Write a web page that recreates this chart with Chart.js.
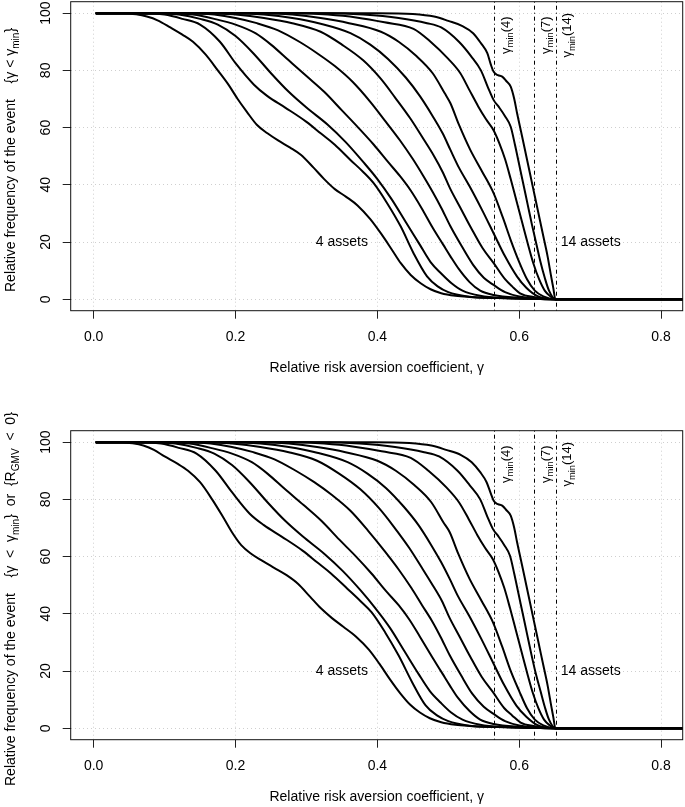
<!DOCTYPE html>
<html>
<head>
<meta charset="utf-8">
<script src="https://cdn.jsdelivr.net/npm/chart.js@4.4.1/dist/chart.umd.min.js"></script>
<style>
  html, body { margin: 0; padding: 0; background: #fff; }
  #wrap { position: relative; width: 685px; height: 807px; overflow: hidden; }
  canvas { position: absolute; left: 0; }
  #c1 { top: 0; }
  #c2 { top: 400px; }
</style>
</head>
<body>
<div id="wrap">
  <canvas id="c1" width="685" height="400"></canvas>
  <canvas id="c2" width="685" height="407"></canvas>
</div>
<script>
// ---------------- DATA ----------------
const xTicks = [0.0, 0.2, 0.4, 0.6, 0.8];
const xTickLabels = ["0.0", "0.2", "0.4", "0.6", "0.8"];
const yTicks = [0, 20, 40, 60, 80, 100];
const yTickLabels = ["0", "20", "40", "60", "80", "100"];
const gminValues = [0.5645, 0.6208, 0.6514];
const gminNames = ["4", "7", "14"];
const assetLabels = ["4 assets", "14 assets"];

// top panel curves: [gamma, relative frequency]
const top4 = [[0.003,100],[0.045,100],[0.06,99.6],[0.075,98.8],[0.09,97.5],[0.108,95],[0.125,92.5],[0.14,90],[0.158,85.5],[0.175,80],[0.19,75],[0.203,70],[0.216,65.5],[0.23,61],[0.245,58],[0.26,55.5],[0.277,53],[0.292,50.5],[0.31,46],[0.325,42],[0.34,38.5],[0.356,35.8],[0.372,32.8],[0.39,28],[0.405,23],[0.42,17.5],[0.433,12.6],[0.447,8.5],[0.461,5.6],[0.475,3.5],[0.49,2.1],[0.51,1.2],[0.53,0.8],[0.56,0.5],[0.6,0.3],[0.651,0],[0.84,0]];
const top5 = [[0.003,100],[0.07,100],[0.1,99.5],[0.125,98],[0.15,96],[0.178,90],[0.2,82.5],[0.226,75],[0.245,71],[0.27,67],[0.3,62],[0.32,58],[0.34,54],[0.362,48.7],[0.38,44.5],[0.395,40.5],[0.414,33.5],[0.433,25.4],[0.451,16.1],[0.47,8],[0.485,4.5],[0.5,2.5],[0.527,1],[0.57,0.4],[0.651,0],[0.84,0]];
const top6 = [[0.003,100],[0.09,100],[0.12,99.5],[0.15,98],[0.175,96],[0.2,92],[0.225,86],[0.25,79],[0.275,72.5],[0.3,67],[0.33,61],[0.355,55],[0.38,48],[0.4,42],[0.42,35],[0.44,27],[0.46,19],[0.475,13],[0.49,9],[0.505,5.5],[0.52,3],[0.545,1.2],[0.58,0.4],[0.651,0],[0.84,0]];
const top7 = [[0.003,100],[0.11,100],[0.14,99.5],[0.17,98],[0.2,96],[0.228,93],[0.25,89],[0.275,83.5],[0.3,78],[0.325,72.5],[0.35,66],[0.373,60],[0.395,54],[0.415,48],[0.432,43],[0.447,38],[0.462,32],[0.478,25],[0.493,19],[0.503,15],[0.515,10.5],[0.53,6],[0.545,3],[0.564,1.5],[0.6,0.5],[0.651,0],[0.84,0]];
const top8 = [[0.003,100],[0.14,100],[0.17,99.5],[0.2,98.3],[0.23,96.5],[0.26,94],[0.29,90],[0.315,86],[0.34,81.5],[0.365,76],[0.39,69],[0.412,62],[0.432,55.5],[0.45,49],[0.465,43],[0.478,37.5],[0.49,32],[0.503,25.5],[0.519,18.5],[0.535,12],[0.55,7.5],[0.564,5],[0.58,2.5],[0.6,1],[0.651,0],[0.84,0]];
const top9 = [[0.003,100],[0.17,100],[0.2,99.5],[0.24,98.3],[0.28,96.5],[0.32,93.5],[0.35,89],[0.38,83.5],[0.405,77],[0.425,70.5],[0.447,63],[0.465,56],[0.48,50],[0.492,44.5],[0.503,38.5],[0.517,32],[0.532,25],[0.548,18],[0.564,12.6],[0.58,7],[0.59,4.5],[0.602,2],[0.62,0.8],[0.651,0],[0.84,0]];
const top10 = [[0.003,100],[0.2,100],[0.24,99.5],[0.28,98.3],[0.32,96.3],[0.362,93],[0.39,89],[0.415,84],[0.44,77.5],[0.46,71],[0.478,64],[0.492,58],[0.503,52.2],[0.515,46],[0.53,39.5],[0.547,31.5],[0.564,23],[0.58,15],[0.597,7.9],[0.61,4],[0.625,1.2],[0.651,0],[0.84,0]];
const top11 = [[0.003,100],[0.245,100],[0.28,99.5],[0.32,98.3],[0.36,96.5],[0.405,93.5],[0.43,90],[0.455,85],[0.478,79],[0.495,72],[0.503,68.5],[0.515,61],[0.531,52.2],[0.548,44.5],[0.564,37],[0.577,28.5],[0.588,20.7],[0.6,13],[0.611,7],[0.622,3],[0.634,1],[0.651,0],[0.84,0]];
const top12 = [[0.003,100],[0.29,100],[0.33,99.5],[0.37,98.5],[0.41,96.8],[0.451,94.5],[0.475,90],[0.5,84],[0.517,79],[0.53,73],[0.542,67.5],[0.553,63],[0.564,59],[0.572,54.5],[0.58,49],[0.588,42],[0.596,34.5],[0.604,27],[0.612,19.5],[0.62,12.5],[0.628,7],[0.636,3],[0.644,1],[0.651,0],[0.84,0]];
const top13 = [[0.003,100],[0.33,100],[0.38,99.5],[0.43,98.3],[0.47,96.5],[0.49,95],[0.515,90],[0.532,85],[0.546,80],[0.556,74],[0.564,69.6],[0.571,67.3],[0.58,64],[0.588,60.3],[0.594,54],[0.6,47],[0.606,40],[0.612,33],[0.618,26],[0.624,19.5],[0.63,13],[0.636,7.5],[0.642,3],[0.651,0],[0.84,0]];
const top14 = [[0.003,100],[0.4,100],[0.45,99.7],[0.48,98.8],[0.5,97.3],[0.52,95.5],[0.535,93],[0.546,89.5],[0.555,86],[0.56,82],[0.564,79.5],[0.57,78.3],[0.576,77.8],[0.582,76.2],[0.588,74.3],[0.593,70],[0.597,65],[0.604,57],[0.61,50],[0.616,43],[0.622,36],[0.628,29],[0.634,22],[0.64,15],[0.645,8],[0.648,4],[0.651,0],[0.84,0]];

// bottom panel curves
const bot4 = [[0.003,100],[0.04,100],[0.055,99.6],[0.07,98.8],[0.085,97.3],[0.1,95],[0.118,92.5],[0.133,90],[0.15,86],[0.167,80],[0.182,74],[0.195,68.5],[0.208,64],[0.222,61],[0.238,58.5],[0.255,56],[0.272,53.5],[0.288,50.5],[0.305,46],[0.32,42],[0.336,38.5],[0.352,35.5],[0.37,32],[0.388,27.5],[0.403,22.5],[0.418,17],[0.432,12.3],[0.446,8.3],[0.46,5.5],[0.474,3.5],[0.49,2.1],[0.51,1.2],[0.53,0.8],[0.56,0.5],[0.6,0.3],[0.651,0],[0.84,0]];
const bot5 = [[0.003,100],[0.065,100],[0.095,99.5],[0.12,98],[0.145,96],[0.172,90],[0.195,82.5],[0.22,75],[0.24,71],[0.265,67],[0.295,62],[0.315,58],[0.335,54],[0.358,48.7],[0.376,44.5],[0.392,40.5],[0.411,33.5],[0.43,25.4],[0.449,16.1],[0.468,8],[0.484,4.5],[0.5,2.5],[0.527,1],[0.57,0.4],[0.651,0],[0.84,0]];
const bot6 = [[0.003,100],[0.085,100],[0.115,99.5],[0.145,98],[0.17,96],[0.195,92],[0.22,86],[0.245,79],[0.27,72.5],[0.295,67],[0.325,61],[0.351,55],[0.377,48],[0.397,42],[0.418,35],[0.438,27],[0.458,19],[0.474,13],[0.489,9],[0.504,5.5],[0.52,3],[0.545,1.2],[0.58,0.4],[0.651,0],[0.84,0]];
const bot7 = [[0.003,100],[0.105,100],[0.135,99.5],[0.165,98],[0.195,96],[0.223,93],[0.245,89],[0.27,83.5],[0.296,78],[0.321,72.5],[0.346,66],[0.37,60],[0.392,54],[0.412,48],[0.43,43],[0.445,38],[0.46,32],[0.477,25],[0.492,19],[0.502,15],[0.514,10.5],[0.53,6],[0.545,3],[0.564,1.5],[0.6,0.5],[0.651,0],[0.84,0]];
const bot8 = [[0.003,100],[0.135,100],[0.165,99.5],[0.195,98.3],[0.225,96.5],[0.255,94],[0.285,90],[0.311,86],[0.336,81.5],[0.362,76],[0.387,69],[0.41,62],[0.43,55.5],[0.448,49],[0.463,43],[0.477,37.5],[0.489,32],[0.502,25.5],[0.518,18.5],[0.534,12],[0.55,7.5],[0.564,5],[0.58,2.5],[0.6,1],[0.651,0],[0.84,0]];
const bot9 = [[0.003,100],[0.165,100],[0.195,99.5],[0.235,98.3],[0.275,96.5],[0.315,93.5],[0.346,89],[0.376,83.5],[0.402,77],[0.423,70.5],[0.445,63],[0.463,56],[0.478,50],[0.491,44.5],[0.502,38.5],[0.516,32],[0.531,25],[0.547,18],[0.563,12.6],[0.579,7],[0.59,4.5],[0.602,2],[0.62,0.8],[0.651,0],[0.84,0]];
const bot10 = [[0.003,100],[0.195,100],[0.235,99.5],[0.275,98.3],[0.315,96.3],[0.358,93],[0.386,89],[0.412,84],[0.437,77.5],[0.458,71],[0.476,64],[0.49,58],[0.502,52.2],[0.514,46],[0.529,39.5],[0.546,31.5],[0.563,23],[0.579,15],[0.596,7.9],[0.61,4],[0.625,1.2],[0.651,0],[0.84,0]];
const bot11 = [[0.003,100],[0.24,100],[0.275,99.5],[0.315,98.3],[0.355,96.5],[0.4,93.5],[0.426,90],[0.452,85],[0.476,79],[0.493,72],[0.502,68.5],[0.514,61],[0.53,52.2],[0.547,44.5],[0.563,37],[0.576,28.5],[0.587,20.7],[0.6,13],[0.611,7],[0.622,3],[0.634,1],[0.651,0],[0.84,0]];
const bot12 = [[0.003,100],[0.285,100],[0.325,99.5],[0.365,98.5],[0.406,96.8],[0.447,94.5],[0.472,90],[0.498,84],[0.515,79],[0.529,73],[0.541,67.5],[0.552,63],[0.563,59],[0.571,54.5],[0.579,49],[0.587,42],[0.595,34.5],[0.603,27],[0.611,19.5],[0.619,12.5],[0.627,7],[0.635,3],[0.643,1],[0.651,0],[0.84,0]];
const bot13 = [[0.003,100],[0.325,100],[0.375,99.5],[0.425,98.3],[0.466,96.5],[0.487,95],[0.513,90],[0.53,85],[0.545,80],[0.555,74],[0.563,69.6],[0.57,67.3],[0.579,64],[0.587,60.3],[0.593,54],[0.599,47],[0.605,40],[0.611,33],[0.617,26],[0.623,19.5],[0.63,13],[0.636,7.5],[0.642,3],[0.651,0],[0.84,0]];
const bot14 = [[0.003,100],[0.395,100],[0.445,99.7],[0.476,98.8],[0.497,97.3],[0.518,95.5],[0.533,93],[0.545,89.5],[0.554,86],[0.56,82],[0.564,79.5],[0.57,78.3],[0.576,77.8],[0.582,76.2],[0.588,74.3],[0.593,70],[0.597,65],[0.604,57],[0.61,50],[0.616,43],[0.622,36],[0.628,29],[0.634,22],[0.64,15],[0.645,8],[0.648,4],[0.651,0],[0.84,0]];

const topCurves = [top4, top5, top6, top7, top8, top9, top10, top11, top12, top13, top14];
const botCurves = [bot4, bot5, bot6, bot7, bot8, bot9, bot10, bot11, bot12, bot13, bot14];

const xTitle = "Relative risk aversion coefficient, γ";
const yTitleTop = [{t:"Relative frequency of the event"},{t:"    "},{t:"{γ < γ"},{t:"min",sub:true},{t:"}"}];
const yTitleBot = [{t:"Relative frequency of the event"},{t:"    "},{t:"{γ  <  γ"},{t:"min",sub:true},{t:"}  or  {R"},{t:"GMV",sub:true},{t:"  <  0}"}];

// ---------------- DRAWING ----------------
const FONT = '"Liberation Sans", Arial, Helvetica, sans-serif';
const FS = 14;

function richWidth(ctx, parts, size) {
  let w = 0;
  parts.forEach(p => { ctx.font = (p.sub ? size * 0.72 : size) + 'px ' + FONT; w += ctx.measureText(p.t).width; });
  return w;
}
function drawRich(ctx, parts, x, y, size, rot, align) {
  ctx.save();
  ctx.translate(x, y);
  ctx.rotate(rot);
  const w = richWidth(ctx, parts, size);
  let cx = align === 'center' ? -w / 2 : 0;
  ctx.textAlign = 'left';
  ctx.textBaseline = 'alphabetic';
  ctx.fillStyle = '#000';
  parts.forEach(p => {
    const s = p.sub ? size * 0.72 : size;
    ctx.font = s + 'px ' + FONT;
    ctx.fillText(p.t, cx, size * 0.36 + (p.sub ? size * 0.28 : 0));
    cx += ctx.measureText(p.t).width;
  });
  ctx.restore();
}

function decorPlugin(yTitleParts, yTitleStart) {
  return {
    id: 'decor',
    afterDatasetsDraw(chart) {
      const { ctx, chartArea: a, scales: { x } } = chart;
      ctx.save();
      ctx.strokeStyle = '#000';
      ctx.lineWidth = 1;
      ctx.setLineDash([1, 3, 4, 3]);
      gminValues.forEach(g => {
        const px = Math.round(x.getPixelForValue(g)) + 0.5;
        ctx.beginPath();
        ctx.moveTo(px, a.top);
        ctx.lineTo(px, a.bottom);
        ctx.stroke();
      });
      ctx.restore();
    },
    afterDraw(chart) {
      const { ctx, chartArea: a, scales: { x, y } } = chart;
      ctx.save();
      ctx.strokeStyle = '#111';
      ctx.lineWidth = 1;
      ctx.setLineDash([]);
      ctx.strokeRect(a.left, a.top, a.right - a.left, a.bottom - a.top);
      ctx.fillStyle = '#000';
      ctx.font = FS + 'px ' + FONT;
      ctx.textAlign = 'center';
      ctx.textBaseline = 'middle';
      xTicks.forEach((v, i) => ctx.fillText(xTickLabels[i], x.getPixelForValue(v), a.bottom + 26.3));
      yTicks.forEach((v, i) => {
        ctx.save();
        ctx.translate(45, y.getPixelForValue(v));
        ctx.rotate(-Math.PI / 2);
        ctx.fillText(yTickLabels[i], 0, 1);
        ctx.restore();
      });
      ctx.fillText(xTitle, (a.left + a.right) / 2, a.bottom + 57.3);
      drawRich(ctx, yTitleParts, 10, yTitleStart, FS, -Math.PI / 2, 'left');
      gminValues.forEach((g, i) => {
        drawRich(ctx, [{t:"γ"},{t:"min",sub:true},{t:"(" + gminNames[i] + ")"}],
          x.getPixelForValue(g) + 11, y.getPixelForValue(92.3), 13, -Math.PI / 2, 'center');
      });
      ctx.font = FS + 'px ' + FONT;
      ctx.textAlign = 'center';
      ctx.fillText(assetLabels[0], x.getPixelForValue(0.35), y.getPixelForValue(20));
      ctx.textAlign = 'left';
      ctx.fillText(assetLabels[1], x.getPixelForValue(0.6585), y.getPixelForValue(20));
      ctx.restore();
    }
  };
}

function makeChart(id, curves, yTitleParts, yTitleStart, padTop, canvasH) {
  const gridOpts = { color: '#cfcfcf', lineWidth: 1, drawTicks: true, tickLength: 8, tickColor: '#222', tickWidth: 1, tickBorderDash: [] };
  const frameBottom = padTop + 309;
  return new Chart(document.getElementById(id), {
    type: 'line',
    data: {
      datasets: curves.map(c => ({
        data: c.map(p => ({ x: p[0], y: p[1] })),
        borderColor: '#000', borderWidth: 2, pointRadius: 0, fill: false,
        cubicInterpolationMode: 'monotone', clip: 0
      }))
    },
    options: {
      responsive: false, animation: false, devicePixelRatio: 1,
      layout: { padding: { top: padTop, left: 0, right: 2.3, bottom: 0 } },
      plugins: { legend: { display: false }, tooltip: { enabled: false } },
      scales: {
        x: {
          type: 'linear', min: -0.0324, max: 0.8305, bounds: 'data',
          afterBuildTicks: s => { s.ticks = xTicks.map(v => ({ value: v })); },
          afterFit: s => { s.height = canvasH - frameBottom; },
          ticks: { display: false },
          grid: gridOpts,
          border: { display: false, dash: [1, 3] }
        },
        y: {
          type: 'linear', min: -4, max: 104, bounds: 'data',
          afterBuildTicks: s => { s.ticks = yTicks.map(v => ({ value: v })); },
          afterFit: s => { s.width = 70.7; },
          ticks: { display: false },
          grid: gridOpts,
          border: { display: false, dash: [1, 3] }
        }
      }
    },
    plugins: [decorPlugin(yTitleParts, yTitleStart)]
  });
}

makeChart('c1', topCurves, yTitleTop, 292, 1.7, 400);
makeChart('c2', botCurves, yTitleBot, 386, 30.7, 407);
</script>
</body>
</html>
